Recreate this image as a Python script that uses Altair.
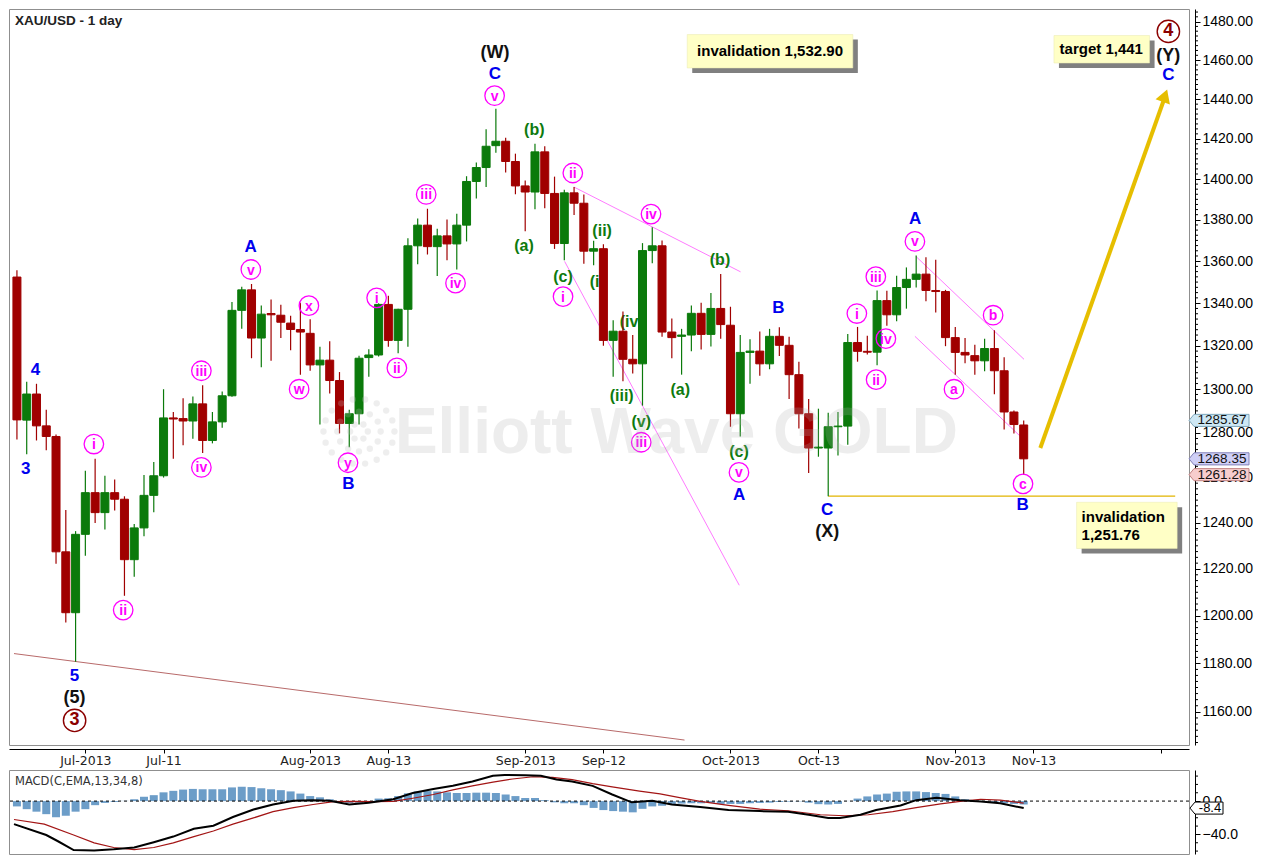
import math
import altair as alt
import pandas as pd

# ---------------- data ----------------
first_idx = -7   # Jun-20-2013; index 0 = Jul-1-2013 (trading days)
opens = [1352.4,1285.8,1297.7,1283.2,1278.4,1227.4,1201.3,
 1235.0,1253.3,1244.5,1253.3,1250.4,1224.0,1237.8,1252.1,1260.8,1286.8,
 1286.5,1285.4,1293.2,1276.6,1285.0,1296.9,1336.6,1346.3,1323.6,1335.1,
 1334.3,1330.6,1327.6,1325.8,1311.1,1313.3,1303.9,1284.3,1288.7,1314.5,
 1315.7,1339.4,1322.5,1337.1,1367.4,1377.4,1367.0,1372.2,1368.3,1377.4,
 1398.8,1405.7,1416.6,1418.8,1408.7,1396.6,1393.6,1413.5,1392.9,1368.5,
 1393.2,1388.1,1364.8,1366.0,1322.5,1326.8,1313.7,1311.6,1365.1,1367.4,
 1326.4,1324.4,1325.0,1335.2,1325.3,1337.5,1329.6,1288.7,1316.9,1317.5,
 1311.6,1324.4,1320.2,1306.6,1288.7,1273.2,1273.2,1282.8,1283.1,1321.5,
 1317.4,1317.0,1341.2,1334.5,1347.4,1351.3,1353.8,1346.0,1345.5,1323.8,
 1316.9,1315.4,1313.0,1318.7,1308.4,1289.5,1283.6]
highs = [1355.7,1303.3,1302.4,1290.5,1279.3,1245.7,1236.4,
 1263.0,1268.4,1260.8,1259.1,1251.7,1239.5,1261.1,1266.9,1299.9,1289.5,
 1295.8,1296.6,1301.7,1289.5,1298.8,1340.6,1347.8,1349.1,1338.9,1341.7,
 1339.3,1334.1,1340.2,1332.4,1319.5,1322.1,1307.8,1290.5,1315.4,1318.4,
 1339.9,1343.5,1337.4,1371.1,1380.6,1385.4,1375.6,1380.1,1383.0,1401.4,
 1408.2,1424.8,1435.2,1420.6,1412.6,1399.3,1417.5,1416.3,1401.2,1394.7,
 1396.1,1392.4,1369.8,1368.2,1331.9,1336.0,1325.0,1368.7,1376.4,1370.0,
 1332.8,1327.9,1338.9,1340.2,1344.8,1353.8,1338.3,1325.0,1323.0,1326.6,
 1327.9,1328.6,1324.2,1312.6,1295.4,1291.0,1289.1,1289.5,1325.5,1328.8,
 1324.7,1346.0,1345.9,1353.0,1357.0,1362.7,1361.9,1360.7,1346.3,1328.8,
 1323.6,1320.5,1323.3,1327.3,1314.7,1290.2,1285.67]
lows = [1277.0,1270.4,1276.6,1272.2,1222.2,1197.2,1180.7,
 1225.7,1240.0,1237.1,1245.4,1208.5,1216.6,1234.2,1244.7,1260.0,1268.4,
 1274.4,1277.4,1271.0,1275.3,1282.4,1296.5,1327.9,1314.2,1310.0,1313.0,
 1323.6,1317.9,1306.6,1308.4,1283.8,1297.9,1279.8,1273.6,1283.8,1305.6,
 1315.0,1319.5,1316.5,1319.5,1358.5,1363.2,1352.9,1360.4,1356.0,1369.5,
 1390.4,1396.1,1413.1,1403.3,1392.5,1374.5,1385.2,1385.7,1365.9,1360.4,
 1382.3,1358.8,1358.0,1320.0,1305.6,1303.6,1307.1,1292.4,1359.0,1324.2,
 1314.2,1306.6,1317.4,1318.3,1319.7,1323.3,1282.8,1278.4,1302.4,1306.1,
 1309.1,1315.2,1295.4,1282.0,1262.0,1269.3,1251.76,1269.9,1274.7,1312.6,
 1315.9,1311.0,1329.4,1331.5,1337.4,1347.4,1340.9,1335.6,1319.8,1306.6,
 1311.9,1306.6,1308.2,1297.6,1281.6,1279.8,1261.28]
closes = [1285.9,1297.7,1283.2,1278.4,1227.4,1201.3,1235.0,
 1253.3,1244.5,1253.3,1250.4,1224.0,1237.8,1252.1,1260.8,1286.8,1286.3,
 1285.4,1293.2,1276.6,1285.0,1296.9,1336.6,1346.3,1323.6,1334.8,1334.5,
 1331.0,1327.6,1326.4,1311.1,1313.3,1303.9,1284.3,1288.7,1314.2,1315.7,
 1339.4,1322.5,1337.1,1367.4,1377.4,1367.0,1372.2,1368.3,1377.4,1398.8,
 1405.7,1416.3,1418.8,1408.7,1396.6,1393.6,1413.5,1392.9,1368.5,1393.2,
 1388.1,1364.8,1366.0,1322.5,1326.8,1313.7,1311.6,1365.1,1367.4,1326.4,
 1323.8,1325.0,1335.2,1325.3,1337.5,1329.9,1288.7,1316.9,1317.5,1311.6,
 1324.4,1320.2,1306.6,1288.7,1273.2,1273.6,1282.8,1283.1,1321.5,1317.4,
 1317.0,1341.2,1334.5,1347.4,1351.3,1353.8,1346.0,1345.5,1323.8,1316.9,
 1315.7,1313.0,1318.7,1308.4,1289.5,1283.8,1268.35]

macd_hist = [-6.4,-9.7,-12.7,-15.7,-19.4,-17.6,-12.7,
 -9.7,-4.9,-2.2,-1.1,0.3,2.2,5.2,7.1,10.5,12.3,
 13.8,14.6,14.2,14.2,14.2,16.4,17.2,16.8,15.3,14.2,
 13.1,11.6,9.0,6.0,4.5,2.2,-1.1,-2.2,-1.9,-0.7,
 3.0,3.4,6.0,9.3,11.6,12.0,11.6,10.5,9.7,9.7,
 10.1,10.1,9.7,7.9,6.0,3.7,3.7,1.1,-1.5,-2.6,
 -2.6,-4.9,-8.2,-10.8,-12.0,-12.7,-13.5,-9.3,-6.4,-5.6,
 -3.4,-3.0,-2.6,-2.6,-2.2,-3.4,-3.4,-3.4,-2.6,-2.2,
 -1.9,-1.1,-0.7,-0.4,-1.9,-3.7,-4.1,-3.4,0.2,3.0,
 5.6,7.9,9.0,11.2,11.6,11.6,10.8,9.7,8.6,5.6,
 2.2,0.4,-0.7,-1.5,-2.6,-3.4,-4.1]
macd_i = [-7.3,-4.0,-2.8,-1.2,0.9,2.9,5.0,7.0,9.0,11.1,13.1,15.1,17.2,19.2,21.3,23.3,25.0,
 27.0,29.0,31.5,33.5,35.6,37.6,39.6,41.7,42.9,45.0,46.6,48.2,49.8,51.9,53.9,55.9,58.0,
 60.0,62.9,65.8,69.0,71.9,74.0,76.0,77.2,79.3,80.9,83.4,85.0,87.1,89.5,91.6,93.6,96.0]
macd_v = [-27.7,-40.7,-48.2,-58.7,-59.4,-57.9,-55.7,-49.3,-42.6,-33.3,-29.5,-19.1,-10.1,-4.1,0.4,1.1,0.4,
 -4.1,-1.9,2.2,9.7,14.6,18.3,23.6,30.3,31.4,31.0,30.3,25.8,23.6,18.3,7.9,-1.5,0.4,
 -4.1,-7.1,-10.8,-12.0,-12.7,-16.4,-20.2,-20.2,-16.4,-10.8,-5.2,1.1,4.1,1.1,-0.4,-2.6,-8.4]
sig_i = [-7.3,-4.2,-1.2,0.9,2.9,5.0,7.0,9.0,11.1,13.1,15.1,17.2,19.2,21.3,23.3,25.4,27.4,29.4,
 31.5,33.5,35.6,37.6,39.6,41.7,43.7,45.8,47.8,49.8,51.9,53.9,56.7,58.8,60.8,62.9,65.8,
 69.0,71.9,75.2,77.7,80.1,82.6,85.0,87.5,89.5,91.6,93.6,96.0]
sig_v = [-22.1,-27.7,-40.7,-50.1,-55.7,-58.3,-55.7,-50.1,-42.6,-35.9,-27.7,-20.2,-12.7,-7.9,-4.1,-0.7,-0.4,-0.7,
 -0.4,3.4,7.9,13.5,18.3,22.8,26.5,29.2,28.4,25.8,20.9,17.0,12.0,8.6,4.1,-0.4,-5.2,
 -9.7,-11.6,-16.4,-17.6,-16.4,-12.7,-7.9,-3.4,-0.4,2.2,1.1,-2.5]

tick_idx = [0, 8, 23, 31, 45, 53, 66, 75, 89, 97, 110]
tick_lab = ["Jul-2013", "Jul-11", "Aug-2013", "Aug-13", "Sep-2013", "Sep-12",
            "Oct-2013", "Oct-13", "Nov-2013", "Nov-13", ""]
price_ticks = [1160, 1180, 1200, 1220, 1240, 1260, 1280, 1300, 1320, 1340,
               1360, 1380, 1400, 1420, 1440, 1460, 1480]

# wave labels (bar index, price)
blue_t = ["4", "3", "5", "A", "B", "C", "A", "B", "C", "A", "B", "C"]
blue_i = [-5.1, -6.1, -1.1, 16.9, 26.9, 41.9, 66.9, 70.9, 75.9, 84.9, 95.9, 110.8]
blue_p = [1308.9, 1264.0, 1174.6, 1366.6, 1257.2, 1453.0, 1252.2, 1337.5, 1245.7, 1380.6, 1247.8, 1452.3]
black_t = ["(W)", "(X)", "(Y)", "(5)"]
black_i = [41.9, 75.9, 110.8, -1.1]
black_p = [1463.9, 1236.1, 1462.4, 1165.7]
dred_t = ["3", "4"]
dred_i = [-1.1, 110.8]
dred_p = [1156.5, 1474.9]
mag_t = ["i", "ii", "iii", "iv", "v", "x", "w", "y", "i", "ii", "iii", "iv", "v", "ii", "i",
         "iv", "iii", "v", "i", "iii", "iv", "ii", "v", "a", "b", "c"]
mag_i = [0.87, 3.87, 11.87, 11.87, 16.93, 22.87, 21.87, 26.87, 29.8, 31.87, 34.87, 37.87, 41.87,
         49.87, 48.87, 57.87, 56.87, 66.87, 78.93, 80.87, 81.9, 80.9, 84.87, 88.87, 92.87, 95.93]
mag_p = [1275.0, 1202.4, 1308.4, 1264.5, 1356.0, 1338.8, 1299.9, 1266.6, 1342.5, 1309.7, 1392.4,
         1349.5, 1441.8, 1403.0, 1343.1, 1382.8, 1275.8, 1262.3, 1335.1, 1352.6, 1323.3, 1304.3,
         1369.5, 1299.9, 1334.3, 1257.2]
grn_t = ["(b)", "(a)", "(c)", "(ii)", "(i)", "(iv)", "(iii)", "(v)", "(b)", "(a)", "(c)"]
grn_i = [45.93, 44.87, 48.87, 52.87, 52.37, 55.9, 54.87, 56.87, 64.93, 60.87, 66.87]
grn_p = [1424.5, 1367.4, 1352.6, 1374.5, 1350.2, 1331.1, 1296.6, 1285.0, 1360.4, 1299.4, 1271.3]

# drawn trend / channel lines (bar index, price)
trend_i = [-7.3, 61.3]
trend_p = [1184.1, 1148.5]
chan_g = ["a", "a", "b", "b", "c", "c", "d", "d"]
chan_i = [49.97, 67.03, 49.03, 66.9, 84.97, 96.03, 84.87, 96.03]
chan_p = [1396.1, 1354.9, 1359.9, 1213.0, 1362.3, 1313.7, 1324.4, 1276.9]
inval_level = 1251.76
inval_i = [76, 111.5]
arrow_i = [97.7, 110.4]
arrow_p = [1273.2, 1440.5]
last_high, last_close, last_low = 1285.67, 1268.35, 1261.28
macd_last = -8.4

# ---------------- layout ----------------
W, H, MH = 1180, 736, 84
KX = W / 1197.0
KY = H / 749.0
def px(x):
    return x * KX
def py(y):
    return (y - 3) * KY

FONT = "Liberation Sans"
GREEN, RED = "#0B7A0B", "#A00000"
MAG = "#FF00FF"

label_expr = ("[" + ",".join("'%s'" % t for t in tick_lab) + "][indexof([" +
              ",".join(str(v) for v in tick_idx) + "], datum.value)]")
xscale = alt.Scale(domain=[-7.3, 112.4], nice=False, zero=False)
xaxis = alt.Axis(values=tick_idx, labelExpr=label_expr, title=None, grid=False, orient="bottom",
                 offset=4, tickSize=4, tickColor="black", domainColor="black", labelFont="DejaVu Sans",
                 labelFontSize=12.5, labelColor="#222222", labelPadding=1, zindex=0,
                 labelOverlap=False, labelFlush=False)
X = alt.X("i:Q", scale=xscale, axis=xaxis)
yscale = alt.Scale(type="log", domain=[1146.5, 1486.6], nice=False)
yaxis = alt.Axis(orient="right", values=price_ticks, format=".2f", title=None, grid=False, offset=6,
                 tickSize=5, tickColor="black", domainColor="black", labelFont=FONT, labelFontSize=14,
                 labelColor="black", labelPadding=2, zindex=0, labelOverlap=False)
def Yp(f):
    return alt.Y(f + ":Q", scale=yscale, axis=yaxis)

n = len(opens)
cdf = pd.DataFrame({"i": list(range(first_idx, first_idx + n)), "o": opens, "h": highs,
                    "l": lows, "c": closes})
cdf["dir"] = ["up" if c >= o else "down" for o, c in zip(opens, closes)]
cscale = alt.Scale(domain=["up", "down"], range=[GREEN, RED])
one = pd.DataFrame({"k": [0]})

layers = []
# trend line
layers.append(alt.Chart(pd.DataFrame({"i": trend_i, "p": trend_p})).mark_line(
    color="#B86A6A", strokeWidth=1, clip=True).encode(x=X, y=Yp("p")))
# channel lines
layers.append(alt.Chart(pd.DataFrame({"i": chan_i, "p": chan_p, "g": chan_g})).mark_line(
    color="#FF7BFF", strokeWidth=1).encode(x=X, y=Yp("p"), detail="g:N"))
# invalidation level
layers.append(alt.Chart(pd.DataFrame({"i": inval_i, "p": [inval_level] * 2})).mark_line(
    color="#E2B400", strokeWidth=1.3).encode(x=X, y=Yp("p")))

def txt(labels, xs, ys, color, size, weight="bold", dy=0):
    d = pd.DataFrame({"i": xs, "p": ys, "t": labels})
    return alt.Chart(d).mark_text(color=color, fontSize=size, fontWeight=weight, font=FONT,
                                  align="center", baseline="middle", dy=dy).encode(
        x=X, y=Yp("p"), text="t:N")

def circ(xs, ys, color, size, sw):
    d = pd.DataFrame({"i": xs, "p": ys})
    return alt.Chart(d).mark_point(shape="circle", size=size, filled=False, color=color,
                                   strokeWidth=sw, opacity=1).encode(x=X, y=Yp("p"))

# green labels go under candles
layers.append(txt(grn_t, grn_i, grn_p, "#0E7A0E", 16))

# candles
layers.append(alt.Chart(cdf).mark_rule(strokeWidth=1.2, clip=True).encode(
    x=X, y=Yp("l"), y2="h:Q", color=alt.Color("dir:N", scale=cscale, legend=None)))
layers.append(alt.Chart(cdf).mark_bar(size=8, strokeWidth=1, clip=True).encode(
    x=X, y=Yp("o"), y2="c:Q", color=alt.Color("dir:N", scale=cscale, legend=None),
    stroke=alt.Stroke("dir:N", scale=cscale, legend=None)))

# other labels
layers.append(txt(blue_t, blue_i, blue_p, "#0000EE", 17))
layers.append(txt(black_t, black_i, black_p, "#111111", 18))
layers.append(circ(mag_i, mag_p, MAG, 380, 1.3))
layers.append(txt(mag_t, mag_i, mag_p, MAG, 14, dy=1))
layers.append(circ(dred_i, dred_p, "#8B0000", 500, 1.4))
layers.append(txt(dred_t, dred_i, dred_p, "#8B0000", 18))

# arrow
layers.append(alt.Chart(pd.DataFrame({"i": arrow_i, "p": arrow_p})).mark_line(
    color="#E6BE00", strokeWidth=4).encode(x=X, y=Yp("p")))
layers.append(alt.Chart(pd.DataFrame({"i": [110.45], "p": [1441.8]})).mark_point(
    shape="triangle-up", size=230, angle=19.6, filled=True, color="#E6BE00", opacity=1).encode(
    x=X, y=Yp("p")))

# note boxes
def box(x0, y0, x1, y1):
    sh = alt.Chart(one).mark_rect(fill="#808080").encode(
        x=alt.value(px(x0) + 5), x2=alt.value(px(x1) + 5), y=alt.value(py(y0) + 5),
        y2=alt.value(py(y1) + 5))
    bx = alt.Chart(one).mark_rect(fill="#FFFFC6", stroke="#E8E8B0", strokeWidth=0.5).encode(
        x=alt.value(px(x0)), x2=alt.value(px(x1)), y=alt.value(py(y0)), y2=alt.value(py(y1)))
    return [sh, bx]

def ptxt(s, x, y, align="center", size=15):
    return alt.Chart(one).mark_text(text=s, font=FONT, fontSize=size, fontWeight="bold",
                                    color="black", align=align, baseline="middle").encode(
        x=alt.value(px(x)), y=alt.value(py(y)))

layers += box(688, 29, 856, 63)
layers.append(ptxt("invalidation 1,532.90", 772, 46))
layers += box(1060, 30, 1157, 58)
layers.append(ptxt("target 1,441", 1108, 44))
layers += box(1083, 505, 1185, 552)
layers.append(ptxt("invalidation", 1088, 519.5, align="left"))
layers.append(ptxt("1,251.76", 1088, 538.5, align="left"))

# minor ticks on price axis
minor = [1147.5 + 2.5 * k for k in range(136)]
minor = [m for m in minor if m % 20 != 0]
layers.append(alt.Chart(pd.DataFrame({"m": minor})).mark_rule(color="black", strokeWidth=1).encode(
    y=Yp("m"), x=alt.value(W + 6), x2=alt.value(W + 9)))

# value tags
tag_path = "M-1.18,0L-1,-0.22L1,-0.22L1,0.22L-1,0.22Z"
tags = pd.DataFrame({"p": [last_high, last_close, last_low],
                     "t": ["%.2f" % v for v in [last_high, last_close, last_low]],
                     "f": ["#CDE7F4", "#CFCFF6", "#F7CDCD"],
                     "s": ["#7FA7BC", "#8080B8", "#C08080"]})
layers.append(alt.Chart(tags).mark_point(shape=tag_path, size=3025, filled=True, opacity=1,
                                         strokeWidth=1).encode(
    x=alt.value(W + 32.5), y=Yp("p"), fill=alt.Fill("f:N", scale=None),
    stroke=alt.Stroke("s:N", scale=None)))
layers.append(alt.Chart(tags).mark_text(font=FONT, fontSize=13.5, color="#111111",
                                        align="center", baseline="middle").encode(
    x=alt.value(W + 33), y=Yp("p"), text="t:N"))

# watermark logo (ring of faint dots) and text
logo = pd.DataFrame({
    "x": [px(355 + r * math.cos(2 * math.pi * k / n_)) for r, n_ in [(36, 18), (22, 12), (9, 6)]
          for k in range(n_)],
    "y": [py(433 + r * 0.92 * math.sin(2 * math.pi * k / n_)) for r, n_ in [(36, 18), (22, 12), (9, 6)]
          for k in range(n_)]})
layers.append(alt.Chart(logo).mark_circle(size=40, color="#BDBDBD", opacity=0.25).encode(
    x=alt.X("x:Q", scale=None, axis=None), y=alt.Y("y:Q", scale=None, axis=None)))
layers.append(alt.Chart(one).mark_text(text="Elliott Wave GOLD", font=FONT,
                                       fontSize=64, fontWeight="bold", fill="#B0B0B0",
                                       opacity=0.22, align="center", baseline="middle").encode(
    x=alt.value(px(677)), y=alt.value(py(435))))
# title
layers.append(alt.Chart(one).mark_text(text="XAU/USD - 1 day", font=FONT, fontSize=13.5,
                                       fontWeight="bold", color="#222222", align="left",
                                       baseline="middle").encode(
    x=alt.value(6), y=alt.value(12)))

price = alt.layer(*layers).properties(width=W, height=H)

# ---------------- MACD pane ----------------
mscale = alt.Scale(domain=[-63.5, 37.3], nice=False, zero=False)
maxis = alt.Axis(orient="right", values=[-40, 0], format=".1f", title=None, grid=False, offset=6,
                 tickSize=5, tickColor="black", domainColor="black", labelFont=FONT,
                 labelFontSize=14, labelColor="black", labelPadding=2, zindex=0)
MX = alt.X("i:Q", scale=xscale, axis=None)
def My(f):
    return alt.Y(f + ":Q", scale=mscale, axis=maxis)

hdf = pd.DataFrame({"i": list(range(first_idx, first_idx + n)), "v": macd_hist, "z": [0] * n})
mlayers = [
    alt.Chart(hdf).mark_bar(size=8, color="#6C9DC8", clip=True).encode(x=MX, y=My("v"), y2="z:Q"),
    alt.Chart(pd.DataFrame({"z": [0]})).mark_rule(color="black", strokeDash=[3, 3],
                                                  strokeWidth=1).encode(y=My("z")),
    alt.Chart(pd.DataFrame({"i": sig_i, "v": sig_v})).mark_line(color="#A31515", strokeWidth=1.2,
                                                                clip=True).encode(x=MX, y=My("v")),
    alt.Chart(pd.DataFrame({"i": macd_i, "v": macd_v})).mark_line(color="black", strokeWidth=2,
                                                                  clip=True).encode(x=MX, y=My("v")),
    alt.Chart(pd.DataFrame({"m": [30, 20, 10, -10, -20, -30, -50, -60]})).mark_rule(
        color="black").encode(y=My("m"), x=alt.value(W + 6), x2=alt.value(W + 9)),
    alt.Chart(one).mark_text(text="MACD(C,EMA,13,34,8)", font="DejaVu Sans", fontSize=11.5,
                             color="#333333", align="left", baseline="middle").encode(
        x=alt.value(6), y=alt.value(12)),
    alt.Chart(pd.DataFrame({"v": [macd_last]})).mark_point(
        shape="M-1.36,0L-1,-0.43L1,-0.43L1,0.43L-1,0.43Z", size=784, filled=True, fill="white",
        stroke="black", strokeWidth=1, opacity=1).encode(x=alt.value(W + 20), y=My("v")),
    alt.Chart(pd.DataFrame({"v": [macd_last]})).mark_text(
        text="%.1f" % macd_last, font=FONT, fontSize=13, color="black", align="center",
        baseline="middle").encode(x=alt.value(W + 21), y=My("v")),
]
macd = alt.layer(*mlayers).properties(width=W, height=MH)

chart = alt.vconcat(price, macd, spacing=2).properties(
    padding=0, background="white").configure_view(stroke="#8F8F8F", strokeWidth=1)

chart.save("out.html", embed_options={"renderer": "svg", "actions": False})
